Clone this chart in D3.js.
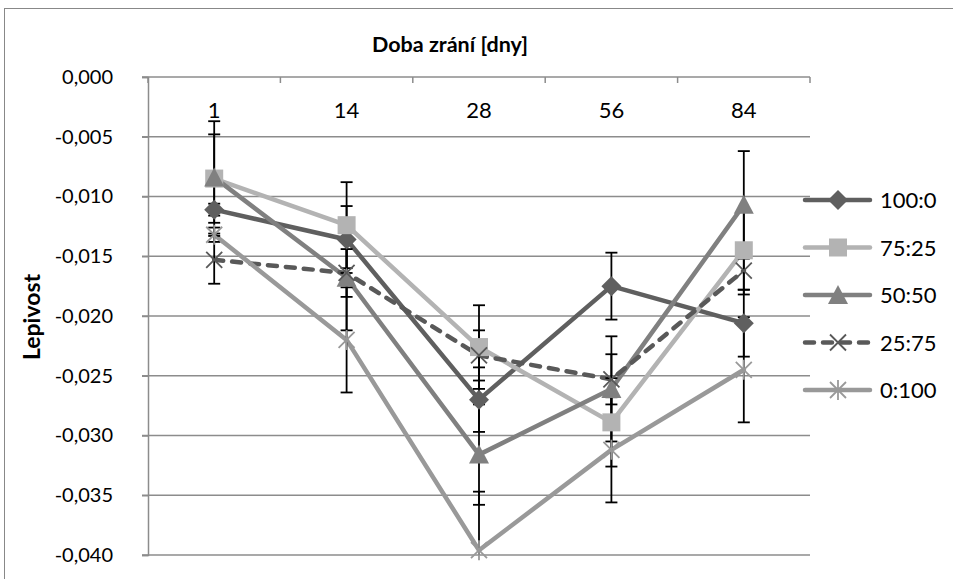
<!DOCTYPE html>
<html>
<head>
<meta charset="utf-8">
<script src="https://cdn.jsdelivr.net/npm/d3@7"></script>
<style>
  body { margin: 0; background: #fff; }
  text { font-family: Lato, "Open Sans", sans-serif; }
</style>
</head>
<body>
<div id="chart"></div>
<script>
// Categories (maturing time in days) and y tick values.
var days = ['1', '14', '28', '56', '84'];
var yTicks = [0, -0.005, -0.010, -0.015, -0.020, -0.025, -0.030, -0.035, -0.040];
var seriesNames = ['100:0', '75:25', '50:50', '25:75', '0:100'];

// Series values and their error bars.
var s100_0 = [-0.0111, -0.0136, -0.0270, -0.0175, -0.0206];
var s75_25 = [-0.0085, -0.0124, -0.0226, -0.0289, -0.0145];
var s50_50 = [-0.0084, -0.0168, -0.0316, -0.0261, -0.0107];
var s25_75 = [-0.0153, -0.0164, -0.0233, -0.0253, -0.0162];
var s0_100 = [-0.0132, -0.0220, -0.0396, -0.0312, -0.0245];

var e100_0 = [0.0005, 0.0028, 0.0027, 0.0028, 0.0028];
var e75_25 = [0.0037, 0.0036, 0.0035, 0.0037, 0.0033];
var e50_50 = [0.0047, 0.0044, 0.0042, 0.0044, 0.0045];
var e25_75 = [0.0020, 0.0020, 0.0021, 0.0021, 0.0020];
var e0_100 = [0.0006, 0.0044, 0.0049, 0.0044, 0.0044];

var values = [s100_0, s75_25, s50_50, s25_75, s0_100];
var errors = [e100_0, e75_25, e50_50, e25_75, e0_100];

// Styles per series.
var colors = ['#5f5f5f', '#b3b3b3', '#808080', '#595959', '#999999'];
var markers = ['diamond', 'square', 'triangle', 'cross', 'star'];
var dashes = [null, null, null, '9,9', null];

var width = 953, height = 579;
var plot = {left: 148, right: 810, top: 77, bottom: 555};
var labelSize = '22px';

var svg = d3.select('#chart')
    .append('svg')
        .attr('width', width)
        .attr('height', height);

// Outer chart frame.
svg.append('rect')
    .attr('x', 4.5).attr('y', 8.5)
    .attr('width', 980).attr('height', 620)
    .attr('fill', 'none')
    .attr('stroke', '#888')
    .attr('stroke-width', 1);

var x = d3.scaleBand()
    .domain(days)
    .range([plot.left, plot.right]);

var y = d3.scaleLinear()
    .domain([0, -0.040])
    .range([plot.top, plot.bottom]);

var czech = d3.formatLocale({decimal: ',', thousands: ' ', grouping: [3], currency: ['', ' Kč'], minus: '-'});
var fmt = czech.format('.3f');

// Horizontal gridlines.
svg.append('g')
    .selectAll('line')
    .data(yTicks)
    .enter().append('line')
        .attr('x1', plot.left - 6)
        .attr('x2', plot.right)
        .attr('y1', function(d){ return y(d); })
        .attr('y2', function(d){ return y(d); })
        .attr('stroke', '#8c8c8c')
        .attr('stroke-width', 1.5);

// Y axis.
var yAxis = svg.append('g')
    .attr('transform', 'translate(' + plot.left + ',0)')
    .call(d3.axisLeft(y).tickValues(yTicks).tickFormat(fmt).tickSize(6).tickPadding(29));
yAxis.select('.domain').attr('stroke', '#8c8c8c').attr('stroke-width', 1.5);
yAxis.selectAll('.tick line').attr('stroke', '#8c8c8c').attr('stroke-width', 1.5);
yAxis.selectAll('.tick text')
    .attr('font-size', '20px')
    .attr('fill', '#000')
    .style('font-family', 'Lato, "Open Sans", sans-serif');

// X axis along the zero line, tick marks between categories.
var bounds = days.map(function(d){ return x(d); }).concat([plot.right]);
svg.append('g')
    .selectAll('line')
    .data(bounds)
    .enter().append('line')
        .attr('x1', function(d){ return d; })
        .attr('x2', function(d){ return d; })
        .attr('y1', plot.top)
        .attr('y2', plot.top + 6)
        .attr('stroke', '#8c8c8c')
        .attr('stroke-width', 1.5);

svg.append('g')
    .selectAll('text')
    .data(days)
    .enter().append('text')
        .attr('x', function(d){ return x(d) + x.bandwidth() / 2; })
        .attr('y', 118)
        .attr('text-anchor', 'middle')
        .attr('font-size', labelSize)
        .text(function(d){ return d; });

// Axis titles.
svg.append('text')
    .attr('x', 450)
    .attr('y', 52)
    .attr('text-anchor', 'middle')
    .attr('font-size', '21.5px')
    .attr('font-weight', 'bold')
    .text('Doba zrání [dny]');

svg.append('text')
    .attr('transform', 'translate(40,' + 317 + ') rotate(-90)')
    .attr('text-anchor', 'middle')
    .attr('font-size', '23px')
    .attr('font-weight', 'bold')
    .text('Lepivost');

function cx(i){ return x(days[i]) + x.bandwidth() / 2; }

// Marker drawing helper.
function drawMarker(g, type, px, py, color, size){
    var h = size / 2;
    if (type === 'diamond') {
        g.append('path')
            .attr('d', 'M' + px + ',' + (py - h) + 'L' + (px + h) + ',' + py + 'L' + px + ',' + (py + h) + 'L' + (px - h) + ',' + py + 'Z')
            .attr('fill', color);
    } else if (type === 'square') {
        g.append('rect')
            .attr('x', px - h + 0.5).attr('y', py - h + 0.5)
            .attr('width', size - 1).attr('height', size - 1)
            .attr('fill', color);
    } else if (type === 'triangle') {
        g.append('path')
            .attr('d', 'M' + px + ',' + (py - h) + 'L' + (px + h) + ',' + (py + h - 1) + 'L' + (px - h) + ',' + (py + h - 1) + 'Z')
            .attr('fill', color);
    } else {
        var k = h * 0.8;
        var d = 'M' + (px - k) + ',' + (py - k) + 'L' + (px + k) + ',' + (py + k) +
                'M' + (px + k) + ',' + (py - k) + 'L' + (px - k) + ',' + (py + k);
        if (type === 'star') d += 'M' + px + ',' + (py - h) + 'L' + px + ',' + (py + h);
        g.append('path')
            .attr('d', d)
            .attr('fill', 'none')
            .attr('stroke', color)
            .attr('stroke-width', 1.8);
    }
}

var line = d3.line()
    .x(function(d, i){ return cx(i); })
    .y(function(d){ return y(d); });

svg.append('clipPath').attr('id', 'plotclip')
    .append('rect')
        .attr('x', plot.left - 20).attr('y', plot.top)
        .attr('width', plot.right - plot.left + 40)
        .attr('height', plot.bottom - plot.top);

// Series lines.
var linesG = svg.append('g');
values.forEach(function(vals, s){
    linesG.append('path')
        .datum(vals)
        .attr('d', line)
        .attr('fill', 'none')
        .attr('stroke', colors[s])
        .attr('stroke-width', 4.5)
        .attr('stroke-linecap', 'round')
        .attr('stroke-linejoin', 'round')
        .attr('stroke-dasharray', dashes[s]);
});

// Error bars.
var errG = svg.append('g').attr('clip-path', 'url(#plotclip)');
values.forEach(function(vals, s){
    vals.forEach(function(v, i){
        var e = errors[s][i], px = cx(i);
        errG.append('line')
            .attr('x1', px).attr('x2', px)
            .attr('y1', y(v - e)).attr('y2', y(v + e))
            .attr('stroke', '#000').attr('stroke-width', 1.8);
        [v - e, v + e].forEach(function(c){
            errG.append('line')
                .attr('x1', px - 6).attr('x2', px + 6)
                .attr('y1', y(c)).attr('y2', y(c))
                .attr('stroke', '#000').attr('stroke-width', 1.8);
        });
    });
});

// Markers.
var markG = svg.append('g');
values.forEach(function(vals, s){
    vals.forEach(function(v, i){
        drawMarker(markG, markers[s], cx(i), y(v), colors[s], markers[s] === 'square' ? 19 : 20);
    });
});

// Legend.
var legend = svg.append('g');
seriesNames.forEach(function(name, s){
    var ly = 200 + s * 47.5;
    legend.append('line')
        .attr('x1', 805).attr('x2', 870)
        .attr('y1', ly).attr('y2', ly)
        .attr('stroke', colors[s])
        .attr('stroke-width', 4.5)
        .attr('stroke-linecap', 'round')
        .attr('stroke-dasharray', dashes[s]);
    drawMarker(legend, markers[s], 838, ly, colors[s], markers[s] === 'square' ? 19 : 20);
    legend.append('text')
        .attr('x', 880)
        .attr('y', ly + 8)
        .attr('font-size', labelSize)
        .text(name);
});
</script>
</body>
</html>
